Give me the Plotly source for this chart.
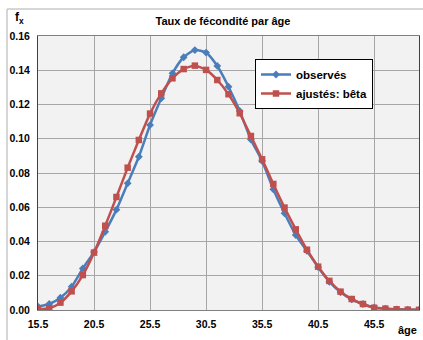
import plotly.graph_objects as go

# Ages (mid-point of each single-year age group)
ages = [15.5 + i for i in range(35)]

# Observed age-specific fertility rates
observes = [0.0020, 0.0035, 0.0072, 0.0136, 0.0243, 0.0338, 0.0457, 0.0586, 0.0740, 0.0895,
            0.1080, 0.1236, 0.1382, 0.1476, 0.1518, 0.1503, 0.1425, 0.1304, 0.1162, 0.0995,
            0.0870, 0.0705, 0.0565, 0.0438, 0.0345, 0.0250, 0.0165, 0.0103, 0.0062, 0.0035,
            0.0015, 0.0008, 0.0004, 0.0002, 0.0001]

# Beta-distribution fitted rates
ajustes = [0.0005, 0.0010, 0.0043, 0.0109, 0.0204, 0.0335, 0.0492, 0.0660, 0.0831, 0.0993,
           0.1147, 0.1265, 0.1353, 0.1407, 0.1427, 0.1402, 0.1343, 0.1260, 0.1149, 0.1016,
           0.0880, 0.0736, 0.0598, 0.0471, 0.0352, 0.0253, 0.0170, 0.0107, 0.0064, 0.0035,
           0.0013, 0.0008, 0.0004, 0.0002, 0.0001]

blue = "#4A7EBB"
red = "#C0504D"

fig = go.Figure()
fig.add_trace(go.Scatter(
    x=ages, y=observes, name="observés", mode="lines+markers",
    line=dict(color=blue, width=2.5, shape="spline", smoothing=0.6),
    marker=dict(symbol="diamond", size=6, color=blue),
))
fig.add_trace(go.Scatter(
    x=ages, y=ajustes, name="ajustés: bêta", mode="lines+markers",
    line=dict(color=red, width=2.5, shape="spline", smoothing=0.6),
    marker=dict(symbol="square", size=6.5, color=red),
))

font_b = "Liberation Sans, Arial, sans-serif"
W, H = 423, 340
ml, mr, mt, mb = 38, 4, 36, 30
pw, ph = W - ml - mr, H - mt - mb

def px_x(p):
    return (p - ml) / pw

def px_y(p):
    return (H - mb - p) / ph

fig.update_layout(
    width=W, height=H,
    margin=dict(l=ml, r=mr, t=mt, b=mb),
    paper_bgcolor="white",
    plot_bgcolor="#F2F2F2",
    showlegend=True,
    legend=dict(
        x=px_x(255), y=px_y(59), xanchor="left", yanchor="top",
        bgcolor="white", bordercolor="#000000", borderwidth=1,
        font=dict(family=font_b, size=11.5, color="black", weight="bold"),
        itemwidth=30, tracegroupgap=2,
        entrywidth=103, entrywidthmode="pixels",
    ),
    title=dict(
        text="<b>Taux de fécondité par âge</b>",
        x=px_x(223), xref="paper", xanchor="center",
        y=1 - 21 / H, yanchor="middle",
        font=dict(family=font_b, size=11, color="black"),
    ),
    xaxis=dict(
        range=[15.5, 49.5], tick0=15.5, dtick=5, tickformat=".1f",
        showgrid=True, gridcolor="#A6A6A6", gridwidth=1,
        showline=True, linecolor="#808080", linewidth=1, mirror=True,
        zeroline=False, ticks="", ticklabelstandoff=4,
        tickfont=dict(family=font_b, size=10.5, color="black", weight="bold"),
    ),
    yaxis=dict(
        range=[0, 0.16], dtick=0.02, tickformat=".2f",
        showgrid=True, gridcolor="#A6A6A6", gridwidth=1,
        showline=True, linecolor="#404040", linewidth=1, mirror=True,
        zeroline=False, ticks="", ticklabelstandoff=5,
        tickfont=dict(family=font_b, size=10.5, color="black", weight="bold"),
    ),
    annotations=[
        dict(text="<b>f<sub>x</sub></b>", x=px_x(13), y=px_y(18), xref="paper", yref="paper",
             xanchor="left", yanchor="middle", showarrow=False,
             font=dict(family=font_b, size=12, color="black")),
        dict(text="<b>âge</b>", x=px_x(407), y=px_y(330), xref="paper", yref="paper",
             xanchor="center", yanchor="middle", showarrow=False,
             font=dict(family=font_b, size=11, color="black")),
    ],
    shapes=[
        dict(type="line", xref="paper", yref="paper",
             x0=px_x(7), x1=px_x(430), y0=px_y(9), y1=px_y(9),
             line=dict(color="#C8C8C8", width=1.5)),
        dict(type="line", xref="paper", yref="paper",
             x0=px_x(7), x1=px_x(7), y0=px_y(9), y1=px_y(345),
             line=dict(color="#C8C8C8", width=1.5)),
    ],
)

fig.write_html("out.html")
